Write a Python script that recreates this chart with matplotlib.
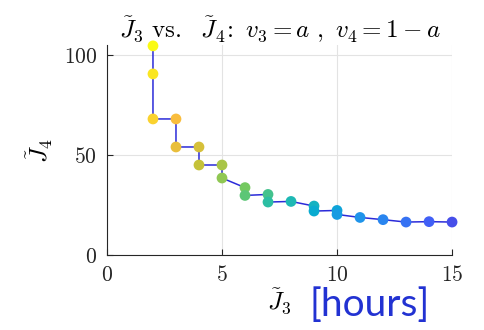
import numpy as np
import matplotlib
matplotlib.use('Agg')
import matplotlib.pyplot as plt
from matplotlib.colors import LinearSegmentedColormap

plt.rcParams['mathtext.fontset'] = 'cm'

# Pareto front points (J3 in hours, J4)
j3 = [2, 2, 2, 3, 3, 4, 4, 5, 5, 6, 6, 7, 7, 8, 9, 9, 10, 10, 11, 12, 13, 14, 15]
j4 = [104.5, 90.5, 68, 68, 54, 54, 45, 45, 38.5, 33.7, 29.8, 30.3, 26.5, 26.8,
      24.5, 22, 22.3, 20.3, 18.8, 17.7, 16.5, 16.7, 16.5]

xticks = [0, 5, 10, 15]
yticks = [0, 50, 100]

# parula-like colormap
parula = LinearSegmentedColormap.from_list('parula', [
    (0.00, (0.24, 0.15, 0.66)),
    (0.12, (0.28, 0.34, 0.97)),
    (0.25, (0.13, 0.57, 0.93)),
    (0.38, (0.03, 0.67, 0.82)),
    (0.50, (0.15, 0.74, 0.66)),
    (0.63, (0.45, 0.79, 0.38)),
    (0.76, (0.78, 0.76, 0.22)),
    (0.88, (0.98, 0.74, 0.24)),
    (1.00, (0.98, 0.98, 0.08)),
])
shade = np.linspace(1, 0.1, len(j3))

fig = plt.figure(figsize=(4.84, 3.30), dpi=100)
ax = fig.add_axes([0.221, 0.227, 0.713, 0.637])

ax.plot(j3, j4, color=(0.17, 0.17, 0.85), lw=1.1, zorder=2)
ax.scatter(j3, j4, c=shade, cmap=parula, vmin=0, vmax=1, s=60,
           edgecolors='none', zorder=3, clip_on=False)

ax.set_xlim(0, 15)
ax.set_ylim(0, 105)
ax.set_xticks(xticks)
ax.set_yticks(yticks)
ax.set_xticklabels([f'${t}$' for t in xticks])
ax.set_yticklabels([f'${t}$' for t in yticks])
ax.tick_params(direction='in', length=4, width=0.8, labelsize=15.5, colors='#262626',
               pad=7)
ax.grid(True, color='#e3e3e3', lw=0.8)
ax.set_axisbelow(True)
for s in ['top', 'right']:
    ax.spines[s].set_visible(False)
for s in ['left', 'bottom']:
    ax.spines[s].set_color('#262626')
    ax.spines[s].set_linewidth(0.8)

ax.set_title(r'$\tilde{J}_3\ \mathrm{vs.}\ \ \tilde{J}_4\!:\ v_3 = a\ ,\ v_4 = 1-a$',
             fontsize=18, pad=5)
ax.set_xlabel(r'$\tilde{J}_3$', fontsize=18, labelpad=1)
ax.set_ylabel(r'$\tilde{J}_4$', fontsize=18, labelpad=6)
fig.text(0.64, 0.075, '[hours]', color='#2232d2', fontsize=28,
         family=['Lato', 'DejaVu Sans'], va='center', ha='left')

fig.savefig('out.png', dpi=100)
